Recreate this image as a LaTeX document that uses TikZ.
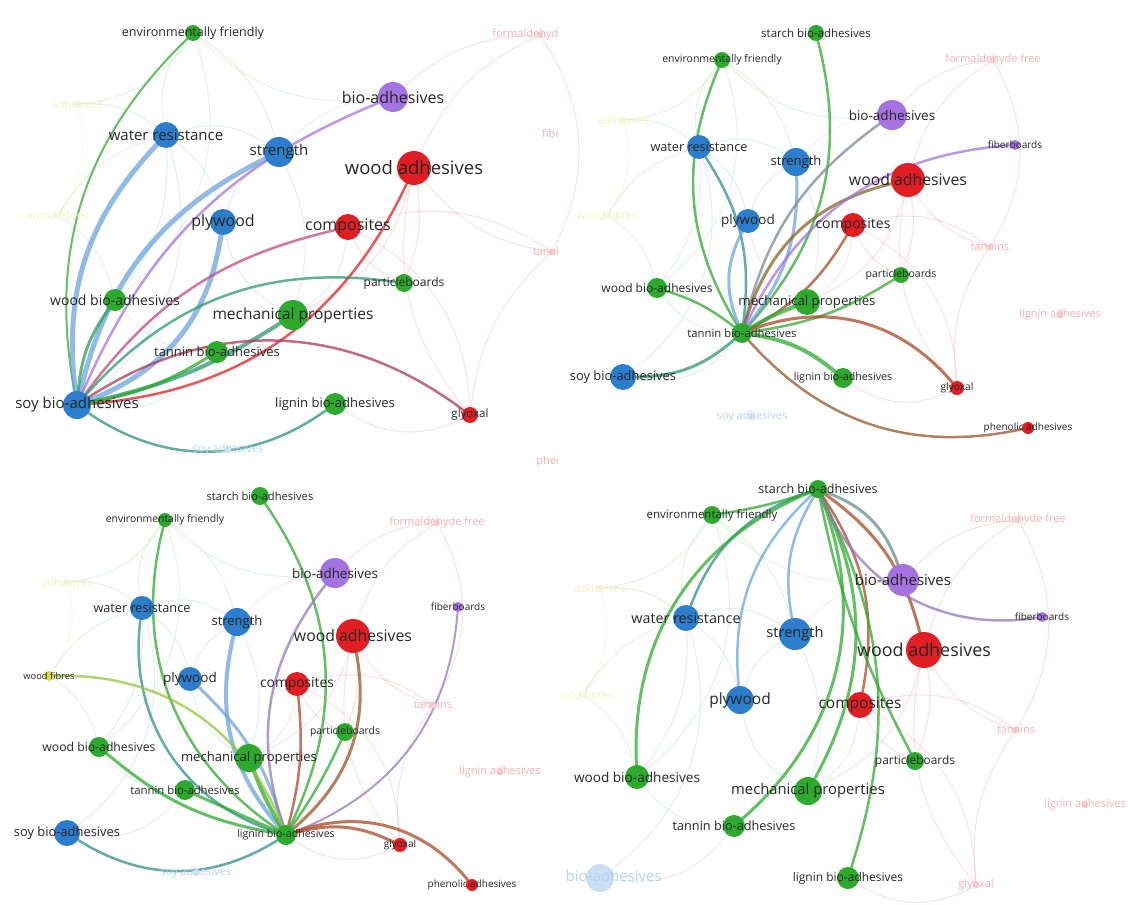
\documentclass[tikz,border=0pt]{standalone}
\usepackage{fontspec}
\usepackage{xcolor}
\usepackage{tikz}
\usetikzlibrary{positioning, calc}

\newfontfamily\vosfont{Open Sans}
\newcommand{\fz}[1]{\vosfont\fontsize{#1}{#1}\selectfont}

\definecolor{vblue}{RGB}{45,125,205}
\definecolor{vred}{RGB}{225,30,35}
\definecolor{vgreen}{RGB}{45,170,45}
\definecolor{vpurple}{RGB}{165,115,225}
\definecolor{vyellow}{RGB}{215,215,70}

\pgfdeclarelayer{haze}
\pgfdeclarelayer{links}
\pgfsetlayers{haze,links,main}

\begin{document}
\begin{tikzpicture}[
    x=1pt, y=-1pt,
    kw/.style={circle, inner sep=0pt, minimum size=#1},
    kwblue/.style={kw=#1, fill=vblue},
    kwred/.style={kw=#1, fill=vred},
    kwgreen/.style={kw=#1, fill=vgreen},
    kwpurple/.style={kw=#1, fill=vpurple},
    kwyellow/.style={kw=#1, fill=vyellow},
    faint/.style={kw=7, fill=#1!20!white},
    lbl/.style={text=black!85, inner sep=0pt, font=\fz{#1}},
    flbl/.style={text=#1!35!white, inner sep=0pt, font=\fz{11}},
    link/.style={line width=#1, draw opacity=0.75, line cap=round},
    hazy/.style={line width=1.1, draw=#1, draw opacity=0.13}
]
\useasboundingbox (0,0) rectangle (1128,905);

% ---------------- top left: soy bio-adhesives ----------------
\begin{scope}
\clip (0,0) rectangle (557,467);
% faded keywords
\node[faint=vyellow, label={[flbl=vyellow]center:adhesives}] (aAdh) at (77,104) {};
\node[faint=vyellow, label={[flbl=vyellow]center:wood fibres}] (aFibres) at (58,215) {};
\node[faint=vblue, label={[flbl=vblue]center:soy adhesives}] (aSoyAdh) at (228,450) {};
\node[faint=vred, label={[flbl=vred]center:formaldehyde free}] (aFormal) at (540,35) {};
\node[faint=vred, label={[flbl=vred]center:fiberboards}] (aFiber) at (572,133) {};
\node[faint=vred, label={[flbl=vred]center:tannins}] (aTannins) at (552,252) {};
\node[faint=vred, label={[flbl=vred]center:phenolic adhesives}] (aPhen) at (585,462) {};

% keywords
\node[kwgreen=16, label={[lbl=12.5]center:environmentally friendly}] (aEnv) at (193,33) {};
\node[kwpurple=30, label={[lbl=16]center:bio-adhesives}] (aBio) at (393,97) {};
\node[kwblue=26, label={[lbl=15]center:water resistance}] (aWater) at (166,135) {};
\node[kwblue=30, label={[lbl=15]center:strength}] (aStrength) at (279,152) {};
\node[kwred=34, label={[lbl=18.5]center:wood adhesives}] (aWoodAdh) at (414,168) {};
\node[kwblue=26, label={[lbl=16]center:plywood}] (aPly) at (223,222) {};
\node[kwred=26, label={[lbl=16]center:composites}] (aComp) at (348,227) {};
\node[kwgreen=18, label={[lbl=12]center:particleboards}] (aPart) at (404,283) {};
\node[kwgreen=22, label={[lbl=14]center:wood bio-adhesives}] (aWoodBio) at (115,300) {};
\node[kwgreen=30, label={[lbl=15.5]center:mechanical properties}] (aMech) at (293,315) {};
\node[kwgreen=22, label={[lbl=13]center:tannin bio-adhesives}] (aTannin) at (217,352) {};
\node[kwblue=28, label={[lbl=15]center:soy bio-adhesives}] (aSoy) at (77,405) {};
\node[kwgreen=22, label={[lbl=13]center:lignin bio-adhesives}] (aLignin) at (335,404) {};
\node[kwred=16, label={[lbl=11.5]center:glyoxal}] (aGly) at (470,415) {};
\end{scope}

\begin{pgfonlayer}{links}
\draw[link=2, vgreen] (aSoy) to[bend left=28] (aEnv);
\draw[link=5, vblue!70!white] (aSoy) to[bend left=25] (aWater);
\draw[link=5, vblue!70!white] (aSoy) to[bend left=25] (aStrength);
\draw[link=2.5, vpurple] (aSoy) to[bend left=22] (aBio);
\draw[link=5, vblue!70!white] (aSoy) to[bend right=30] (aPly);
\draw[link=2.5, vred!50!vpurple] (aSoy) to[bend left=20] (aComp);
\draw[link=2.5, vred] (aSoy) to[bend right=30] (aWoodAdh);
\draw[link=2.5, vgreen!60!vblue] (aSoy) to[bend left=28] (aPart);
\draw[link=3, vgreen!70!vblue] (aSoy) to[bend left=15] (aWoodBio);
\draw[link=4, vgreen!60!vblue] (aSoy) to[bend right=10] (aMech);
\draw[link=3, vgreen] (aSoy) to[bend right=10] (aTannin);
\draw[link=2.5, vred!70!vblue] (aSoy) to[bend left=35] (aGly);
\draw[link=2.5, vgreen!50!vblue] (aSoy) to[bend right=35] (aLignin);
\end{pgfonlayer}

% ---------------- top right: tannin bio-adhesives ----------------
\begin{scope}
\clip (562,0) rectangle (1128,467);
% faded keywords
\node[faint=vyellow, label={[flbl=vyellow]center:adhesives}] (bAdh) at (623,120) {};
\node[faint=vyellow, label={[flbl=vyellow]center:wood fibres}] (bFibres) at (607,215) {};
\node[faint=vred, label={[flbl=vred]center:formaldehyde free}] (bFormal) at (993,60) {};
\node[faint=vred, label={[flbl=vred]center:tannins}] (bTannins) at (990,247) {};
\node[faint=vred, label={[flbl=vred]center:lignin adhesives}] (bLigAdh) at (1060,315) {};
\node[faint=vblue, label={[flbl=vblue]center:soy adhesives}] (bSoyAdh) at (752,417) {};

% keywords
\node[kwgreen=16, label={[lbl=11.5]center:starch bio-adhesives}] (bStarch) at (816,33) {};
\node[kwgreen=16, label={[lbl=10.5]center:environmentally friendly}] (bEnv) at (722,60) {};
\node[kwpurple=30, label={[lbl=13.5]center:bio-adhesives}] (bBio) at (892,115) {};
\node[kwpurple=10, label={[lbl=10]center:fiberboards}] (bFiber) at (1015,145) {};
\node[kwblue=24, label={[lbl=12.7]center:water resistance}] (bWater) at (699,147) {};
\node[kwblue=28, label={[lbl=13]center:strength}] (bStrength) at (796,162) {};
\node[kwred=34, label={[lbl=15.8]center:wood adhesives}] (bWoodAdh) at (908,180) {};
\node[kwblue=24, label={[lbl=13.5]center:plywood}] (bPly) at (748,221) {};
\node[kwred=24, label={[lbl=14]center:composites}] (bComp) at (853,225) {};
\node[kwgreen=16, label={[lbl=10.5]center:particleboards}] (bPart) at (901,275) {};
\node[kwgreen=20, label={[lbl=12]center:wood bio-adhesives}] (bWoodBio) at (657,288) {};
\node[kwgreen=26, label={[lbl=13.2]center:mechanical properties}] (bMech) at (807,302) {};
\node[kwgreen=20, label={[lbl=11.3]center:tannin bio-adhesives}] (bTannin) at (742,333) {};
\node[kwblue=26, label={[lbl=12.9]center:soy bio-adhesives}] (bSoy) at (623,377) {};
\node[kwgreen=20, label={[lbl=10.7]center:lignin bio-adhesives}] (bLignin) at (843,378) {};
\node[kwred=14, label={[lbl=10.2]center:glyoxal}] (bGly) at (957,388) {};
\node[kwred=12, label={[lbl=10]center:phenolic adhesives}] (bPhen) at (1028,428) {};
\end{scope}

\begin{pgfonlayer}{links}
\draw[link=2.5, vgreen] (bTannin) to[bend right=28] (bStarch);
\draw[link=2.5, vgreen] (bTannin) to[bend left=27] (bEnv);
\draw[link=2.5, vblue!60!vgreen] (bTannin) to[bend right=20] (bWater);
\draw[link=3, vblue!70!white] (bTannin) to[bend left=25] (bPly);
\draw[link=3, vblue!70!white] (bTannin) to[bend right=20] (bStrength);
\draw[link=2.5, vpurple!60!vgreen] (bTannin) to[bend left=20] (bBio);
\draw[link=3, vred!50!vgreen] (bTannin) to[bend left=30] (bWoodAdh);
\draw[link=2.5, vred!70!vgreen] (bTannin) to[bend right=15] (bComp);
\draw[link=2.5, vgreen] (bTannin) to[bend right=12] (bPart);
\draw[link=4, vgreen] (bTannin) to[bend left=5] (bMech);
\draw[link=2.5, vgreen] (bTannin) to[bend right=10] (bWoodBio);
\draw[link=3, vgreen!60!vblue] (bTannin) to[bend left=20] (bSoy);
\draw[link=4, vgreen] (bTannin) to[bend left=15] (bLignin);
\draw[link=3, vred!70!vgreen] (bTannin) to[bend left=35] (bGly);
\draw[link=2.5, vred!60!vgreen] (bTannin) to[bend right=30] (bPhen);
\draw[link=2.5, vpurple] (bTannin) to[bend left=30] (bFiber);
\end{pgfonlayer}

% ---------------- bottom left: lignin bio-adhesives ----------------
\begin{scope}
\clip (0,470) rectangle (557,905);
% faded keywords
\node[faint=vyellow, label={[flbl=vyellow]center:adhesives}] (cAdh) at (67,582) {};
\node[faint=vred, label={[flbl=vred]center:formaldehyde free}] (cFormal) at (437,523) {};
\node[faint=vred, label={[flbl=vred]center:tannins}] (cTannins) at (433,705) {};
\node[faint=vred, label={[flbl=vred]center:lignin adhesives}] (cLigAdh) at (500,772) {};
\node[faint=vblue, label={[flbl=vblue]center:soy adhesives}] (cSoyAdh) at (196,873) {};

% keywords
\node[kwgreen=18, label={[lbl=11.2]center:starch bio-adhesives}] (cStarch) at (260,496) {};
\node[kwgreen=14, label={[lbl=10.4]center:environmentally friendly}] (cEnv) at (165,520) {};
\node[kwpurple=30, label={[lbl=13.4]center:bio-adhesives}] (cBio) at (335,573) {};
\node[kwpurple=10, label={[lbl=10]center:fiberboards}] (cFiber) at (458,607) {};
\node[kwblue=24, label={[lbl=12.7]center:water resistance}] (cWater) at (142,608) {};
\node[kwblue=28, label={[lbl=13]center:strength}] (cStrength) at (237,622) {};
\node[kwred=34, label={[lbl=15.8]center:wood adhesives}] (cWoodAdh) at (353,636) {};
\node[kwyellow=10, label={[lbl=9.3]center:wood fibres}] (cFibres) at (49,676) {};
\node[kwblue=24, label={[lbl=13.5]center:plywood}] (cPly) at (190,679) {};
\node[kwred=24, label={[lbl=13.8]center:composites}] (cComp) at (297,684) {};
\node[kwgreen=18, label={[lbl=10.4]center:particleboards}] (cPart) at (345,732) {};
\node[kwgreen=20, label={[lbl=12.2]center:wood bio-adhesives}] (cWoodBio) at (99,747) {};
\node[kwgreen=28, label={[lbl=13.1]center:mechanical properties}] (cMech) at (249,758) {};
\node[kwgreen=20, label={[lbl=11.3]center:tannin bio-adhesives}] (cTannin) at (185,790) {};
\node[kwblue=26, label={[lbl=12.9]center:soy bio-adhesives}] (cSoy) at (67,833) {};
\node[kwgreen=20, label={[lbl=10.6]center:lignin bio-adhesives}] (cLignin) at (286,835) {};
\node[kwred=14, label={[lbl=10]center:glyoxal}] (cGly) at (400,845) {};
\node[kwred=12, label={[lbl=10]center:phenolic adhesives}] (cPhen) at (472,885) {};
\end{scope}

\begin{pgfonlayer}{links}
\draw[link=2.5, vgreen] (cLignin) to[bend right=30] (cStarch);
\draw[link=2.5, vgreen] (cLignin) to[bend left=35] (cEnv);
\draw[link=2.5, vblue!60!vgreen] (cLignin) to[bend left=40] (cWater);
\draw[link=4, vblue!70!white] (cLignin) to[bend left=27] (cStrength);
\draw[link=3, vblue!70!white] (cLignin) to[bend right=15] (cPly);
\draw[link=2.5, vpurple!60!gray] (cLignin) to[bend left=28] (cBio);
\draw[link=3, vred!60!vgreen] (cLignin) to[bend right=30] (cWoodAdh);
\draw[link=2.5, vred!70!vgreen] (cLignin) to[bend right=10] (cComp);
\draw[link=2.5, vgreen] (cLignin) to[bend right=5] (cPart);
\draw[link=4, vgreen] (cLignin) to[bend left=5] (cMech);
\draw[link=3, vgreen] (cLignin) to (cTannin);
\draw[link=3, vgreen] (cLignin) to[bend left=15] (cWoodBio);
\draw[link=2.5, vblue!60!vgreen] (cLignin) to[bend left=32] (cSoy);
\draw[link=2.5, vyellow!60!vgreen] (cLignin) to[bend right=35] (cFibres);
\draw[link=2, vpurple!60!gray] (cLignin) to[bend right=32] (cFiber);
\draw[link=3, vred!70!vgreen] (cLignin) to[bend left=20] (cGly);
\draw[link=3, vred!70!vgreen] (cLignin) to[bend left=35] (cPhen);
\end{pgfonlayer}

% ---------------- bottom right: starch bio-adhesives ----------------
\begin{scope}
\clip (562,470) rectangle (1128,905);
% faded keywords
\node[faint=vyellow, label={[flbl=vyellow]center:adhesives}] (dAdh) at (600,588) {};
\node[faint=vyellow, label={[flbl=vyellow]center:wood fibres}] (dFibres) at (583,695) {};
\node[faint=vred, label={[flbl=vred]center:formaldehyde free}] (dFormal) at (1018,520) {};
\node[faint=vred, label={[flbl=vred]center:tannins}] (dTannins) at (1016,730) {};
\node[faint=vred, label={[flbl=vred]center:lignin adhesives}] (dLigAdh) at (1085,805) {};
\node[faint=vred, label={[flbl=vred]center:glyoxal}] (dGly) at (976,885) {};
\node[kw=28, fill=vblue!25!white, label={[text=vblue!35!white, inner sep=0pt, font=\fz{15}]center:soy bio-adhesives}] (dSoy) at (600,878) {};

% keywords
\node[kwgreen=18, label={[lbl=12.5]center:starch bio-adhesives}] (dStarch) at (818,489) {};
\node[kwgreen=18, label={[lbl=11.5]center:environmentally friendly}] (dEnv) at (712,515) {};
\node[kwpurple=32, label={[lbl=15]center:bio-adhesives}] (dBio) at (903,580) {};
\node[kwpurple=10, label={[lbl=10]center:fiberboards}] (dFiber) at (1042,617) {};
\node[kwblue=26, label={[lbl=14.3]center:water resistance}] (dWater) at (686,618) {};
\node[kwblue=32, label={[lbl=14.6]center:strength}] (dStrength) at (795,634) {};
\node[kwred=36, label={[lbl=17.9]center:wood adhesives}] (dWoodAdh) at (924,650) {};
\node[kwblue=28, label={[lbl=15.5]center:plywood}] (dPly) at (740,700) {};
\node[kwred=26, label={[lbl=15.5]center:composites}] (dComp) at (860,705) {};
\node[kwgreen=18, label={[lbl=11.9]center:particleboards}] (dPart) at (915,761) {};
\node[kwgreen=24, label={[lbl=13.6]center:wood bio-adhesives}] (dWoodBio) at (637,777) {};
\node[kwgreen=28, label={[lbl=14.8]center:mechanical properties}] (dMech) at (808,791) {};
\node[kwgreen=22, label={[lbl=12.7]center:tannin bio-adhesives}] (dTannin) at (734,826) {};
\node[kwgreen=22, label={[lbl=12]center:lignin bio-adhesives}] (dLignin) at (848,878) {};
\end{scope}

\begin{pgfonlayer}{links}
\draw[link=2.5, vgreen] (dStarch) to[bend left=5] (dEnv);
\draw[link=2.5, vblue!60!vgreen] (dStarch) to[bend right=25] (dWater);
\draw[link=3, vgreen] (dStarch) to[bend right=35] (dWoodBio);
\draw[link=2.5, vblue!70!white] (dStarch) to[bend right=26] (dPly);
\draw[link=2.5, vblue!70!white] (dStarch) to[bend right=20] (dStrength);
\draw[link=3, vgreen] (dStarch) to[bend left=35] (dTannin);
\draw[link=3, vgreen] (dStarch) to[bend left=27] (dMech);
\draw[link=2.5, vred!70!vgreen] (dStarch) to[bend left=22] (dComp);
\draw[link=2.5, vgreen] (dStarch) to[bend right=8] (dPart);
\draw[link=2.5, vgreen] (dStarch) to[bend left=22] (dLignin);
\draw[link=3, vpurple!50!vgreen] (dStarch) to[bend left=25] (dBio);
\draw[link=3, vred!70!vgreen] (dStarch) to[bend left=20] (dWoodAdh);
\draw[link=2.5, vpurple!60!gray] (dStarch) to[bend right=38] (dFiber);
\end{pgfonlayer}

% faded co-occurrence links behind every panel
\begin{pgfonlayer}{haze}
\foreach \k in {a,b,c,d}{
  \foreach \u/\v/\c/\b in {WoodAdh/Formal/vred/20, WoodAdh/Tannins/vred/-20,
      Comp/Tannins/vred/25, Formal/Tannins/vred/30, WoodAdh/Gly/vred/-25,
      Gly/Tannins/vred/20, Bio/Formal/vred/20, WoodAdh/Part/vred/15,
      Comp/Part/vred/-20, WoodAdh/Mech/vred/25, Comp/Gly/vred/30,
      Water/Adh/vgreen/-20, Adh/Fibres/vyellow/25, Fibres/WoodBio/vgreen/20,
      Water/Ply/vblue/20, Water/Strength/vblue/25, Strength/Ply/vblue/-20,
      Strength/Mech/vblue/20, Env/Water/vgreen/-25, Env/Strength/vgreen/20,
      WoodBio/Water/vblue/-20, Mech/Ply/vblue/25, Bio/Strength/vpurple/-20,
      Bio/Env/vgreen/25, Fibres/Water/vgreen/20, Adh/Env/vgreen/-25,
      Mech/Comp/vgreen/-25, Tannin/Soy/vblue/30, WoodBio/Tannin/vgreen/-25,
      Lignin/Gly/vred/-30, Soy/Water/vblue/-35, Env/WoodBio/vgreen/35}
    \draw[hazy=\c] (\k\u) to[bend left=\b] (\k\v);
}
\end{pgfonlayer}

\end{tikzpicture}
\end{document}
